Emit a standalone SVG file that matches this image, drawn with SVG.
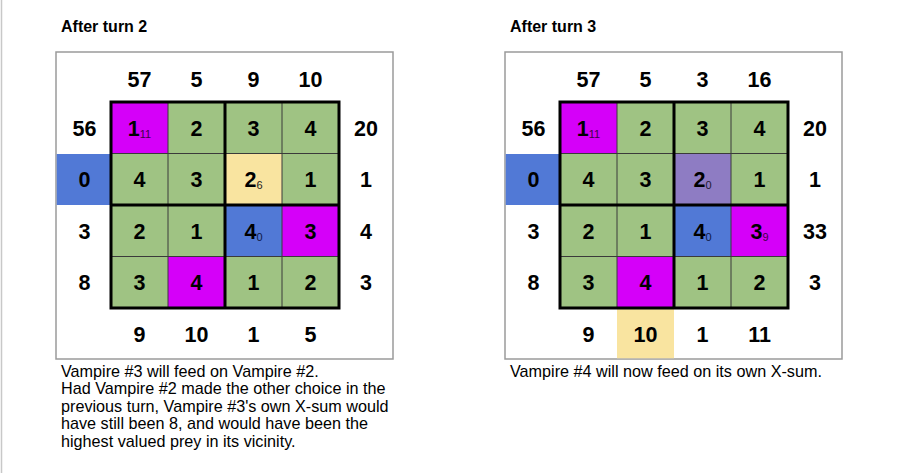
<svg xmlns="http://www.w3.org/2000/svg" width="900" height="473" viewBox="0 0 900 473">
<style>
.title{font-family:"Liberation Sans",Arial,sans-serif;font-weight:bold;font-size:16px;fill:#000}
.body{font-family:"Liberation Sans",Arial,sans-serif;font-size:16.2px;fill:#000}
.n{font-family:"Liberation Sans",Arial,sans-serif;font-weight:bold;font-size:21.5px;fill:#000;text-anchor:middle}
.s{font-weight:normal;font-size:11px}
.box{fill:#fff;stroke:#9a9a9a;stroke-width:1.5}
.g{fill:#9fc383}
.m{fill:#d500f9}
.y{fill:#f9e4a0}
.b{fill:#5179d6}
.p{fill:#8e7cc3}
.thin{stroke:#3a3a3a;stroke-width:1;fill:none}
.thick{stroke:#000;stroke-width:3;fill:none}
</style>
<rect width="900" height="473" fill="#fff"/>
<line x1="1.5" y1="0" x2="1.5" y2="473" stroke="#c8c8c8" stroke-width="1.5"/>

<g id="panel-turn2">
  <text class="title" x="61" y="32">After turn 2</text>
  <rect class="box" x="56" y="52" width="337" height="307"/>
  <rect class="b" x="56.75" y="154" width="54.25" height="51"/>
  <g id="cells-turn2">
    <rect class="m" x="111" y="102" width="57" height="51.5"/>
    <rect class="g" x="168" y="102" width="57" height="51.5"/>
    <rect class="g" x="225" y="102" width="57" height="51.5"/>
    <rect class="g" x="282" y="102" width="57" height="51.5"/>
    <rect class="g" x="111" y="153.5" width="57" height="51.5"/>
    <rect class="g" x="168" y="153.5" width="57" height="51.5"/>
    <rect class="y" x="225" y="153.5" width="57" height="51.5"/>
    <rect class="g" x="282" y="153.5" width="57" height="51.5"/>
    <rect class="g" x="111" y="205" width="57" height="51.5"/>
    <rect class="g" x="168" y="205" width="57" height="51.5"/>
    <rect class="b" x="225" y="205" width="57" height="51.5"/>
    <rect class="m" x="282" y="205" width="57" height="51.5"/>
    <rect class="g" x="111" y="256.5" width="57" height="51.5"/>
    <rect class="m" x="168" y="256.5" width="57" height="51.5"/>
    <rect class="g" x="225" y="256.5" width="57" height="51.5"/>
    <rect class="g" x="282" y="256.5" width="57" height="51.5"/>
    <path class="thin" d="M168 102V308M282 102V308M111 153.5H339M111 256.5H339"/>
    <path class="thick" d="M111 102H339V308H111ZM225 102V308M111 205H339"/>
  </g>
  <g id="values-turn2">
    <text class="n" x="139.5" y="135.5">1<tspan class="s" fill="#3d0047" dy="2">11</tspan></text>
    <text class="n" x="196.5" y="135.5">2</text>
    <text class="n" x="253.5" y="135.5">3</text>
    <text class="n" x="310.5" y="135.5">4</text>
    <text class="n" x="139.5" y="187">4</text>
    <text class="n" x="196.5" y="187">3</text>
    <text class="n" x="253.5" y="187">2<tspan class="s" fill="#222" dy="2">6</tspan></text>
    <text class="n" x="310.5" y="187">1</text>
    <text class="n" x="139.5" y="238.5">2</text>
    <text class="n" x="196.5" y="238.5">1</text>
    <text class="n" x="253.5" y="238.5">4<tspan class="s" fill="#101a44" dy="2">0</tspan></text>
    <text class="n" x="310.5" y="238.5">3</text>
    <text class="n" x="139.5" y="290">3</text>
    <text class="n" x="196.5" y="290">4</text>
    <text class="n" x="253.5" y="290">1</text>
    <text class="n" x="310.5" y="290">2</text>
  </g>
  <g id="clues-turn2">
    <text class="n" x="139.5" y="87">57</text>
    <text class="n" x="196.5" y="87">5</text>
    <text class="n" x="253.5" y="87">9</text>
    <text class="n" x="310.5" y="87">10</text>
    <text class="n" x="84.5" y="135.5">56</text>
    <text class="n" x="84.5" y="187">0</text>
    <text class="n" x="84.5" y="238.5">3</text>
    <text class="n" x="84.5" y="290">8</text>
    <text class="n" x="366" y="135.5">20</text>
    <text class="n" x="366" y="187">1</text>
    <text class="n" x="366" y="238.5">4</text>
    <text class="n" x="366" y="290">3</text>
    <text class="n" x="139.5" y="342">9</text>
    <text class="n" x="196.5" y="342">10</text>
    <text class="n" x="253.5" y="342">1</text>
    <text class="n" x="310.5" y="342">5</text>
  </g>
  <text class="body" x="61" y="377">Vampire #3 will feed on Vampire #2.</text>
  <text class="body" x="61" y="394.4">Had Vampire #2 made the other choice in the</text>
  <text class="body" x="61" y="411.8">previous turn, Vampire #3's own X-sum would</text>
  <text class="body" x="61" y="429.2">have still been 8, and would have been the</text>
  <text class="body" x="61" y="446.6">highest valued prey in its vicinity.</text>
</g>

<g id="panel-turn3" transform="translate(449,0)">
  <text class="title" x="61" y="32">After turn 3</text>
  <rect class="box" x="56" y="52" width="337" height="307"/>
  <rect class="b" x="56.75" y="154" width="54.25" height="51"/>
  <rect class="y" x="168" y="308" width="57" height="50.25"/>
  <g id="cells-turn3">
    <rect class="m" x="111" y="102" width="57" height="51.5"/>
    <rect class="g" x="168" y="102" width="57" height="51.5"/>
    <rect class="g" x="225" y="102" width="57" height="51.5"/>
    <rect class="g" x="282" y="102" width="57" height="51.5"/>
    <rect class="g" x="111" y="153.5" width="57" height="51.5"/>
    <rect class="g" x="168" y="153.5" width="57" height="51.5"/>
    <rect class="p" x="225" y="153.5" width="57" height="51.5"/>
    <rect class="g" x="282" y="153.5" width="57" height="51.5"/>
    <rect class="g" x="111" y="205" width="57" height="51.5"/>
    <rect class="g" x="168" y="205" width="57" height="51.5"/>
    <rect class="b" x="225" y="205" width="57" height="51.5"/>
    <rect class="m" x="282" y="205" width="57" height="51.5"/>
    <rect class="g" x="111" y="256.5" width="57" height="51.5"/>
    <rect class="m" x="168" y="256.5" width="57" height="51.5"/>
    <rect class="g" x="225" y="256.5" width="57" height="51.5"/>
    <rect class="g" x="282" y="256.5" width="57" height="51.5"/>
    <path class="thin" d="M168 102V308M282 102V308M111 153.5H339M111 256.5H339"/>
    <path class="thick" d="M111 102H339V308H111ZM225 102V308M111 205H339"/>
  </g>
  <g id="values-turn3">
    <text class="n" x="139.5" y="135.5">1<tspan class="s" fill="#3d0047" dy="2">11</tspan></text>
    <text class="n" x="196.5" y="135.5">2</text>
    <text class="n" x="253.5" y="135.5">3</text>
    <text class="n" x="310.5" y="135.5">4</text>
    <text class="n" x="139.5" y="187">4</text>
    <text class="n" x="196.5" y="187">3</text>
    <text class="n" x="253.5" y="187">2<tspan class="s" fill="#1e1830" dy="2">0</tspan></text>
    <text class="n" x="310.5" y="187">1</text>
    <text class="n" x="139.5" y="238.5">2</text>
    <text class="n" x="196.5" y="238.5">1</text>
    <text class="n" x="253.5" y="238.5">4<tspan class="s" fill="#101a44" dy="2">0</tspan></text>
    <text class="n" x="310.5" y="238.5">3<tspan class="s" fill="#3d0047" dy="2">9</tspan></text>
    <text class="n" x="139.5" y="290">3</text>
    <text class="n" x="196.5" y="290">4</text>
    <text class="n" x="253.5" y="290">1</text>
    <text class="n" x="310.5" y="290">2</text>
  </g>
  <g id="clues-turn3">
    <text class="n" x="139.5" y="87">57</text>
    <text class="n" x="196.5" y="87">5</text>
    <text class="n" x="253.5" y="87">3</text>
    <text class="n" x="310.5" y="87">16</text>
    <text class="n" x="84.5" y="135.5">56</text>
    <text class="n" x="84.5" y="187">0</text>
    <text class="n" x="84.5" y="238.5">3</text>
    <text class="n" x="84.5" y="290">8</text>
    <text class="n" x="366" y="135.5">20</text>
    <text class="n" x="366" y="187">1</text>
    <text class="n" x="366" y="238.5">33</text>
    <text class="n" x="366" y="290">3</text>
    <text class="n" x="139.5" y="342">9</text>
    <text class="n" x="196.5" y="342">10</text>
    <text class="n" x="253.5" y="342">1</text>
    <text class="n" x="310.5" y="342">11</text>
  </g>
  <text class="body" x="61" y="377">Vampire #4 will now feed on its own X-sum.</text>
</g>
<g id="connectors"/>
</svg>
